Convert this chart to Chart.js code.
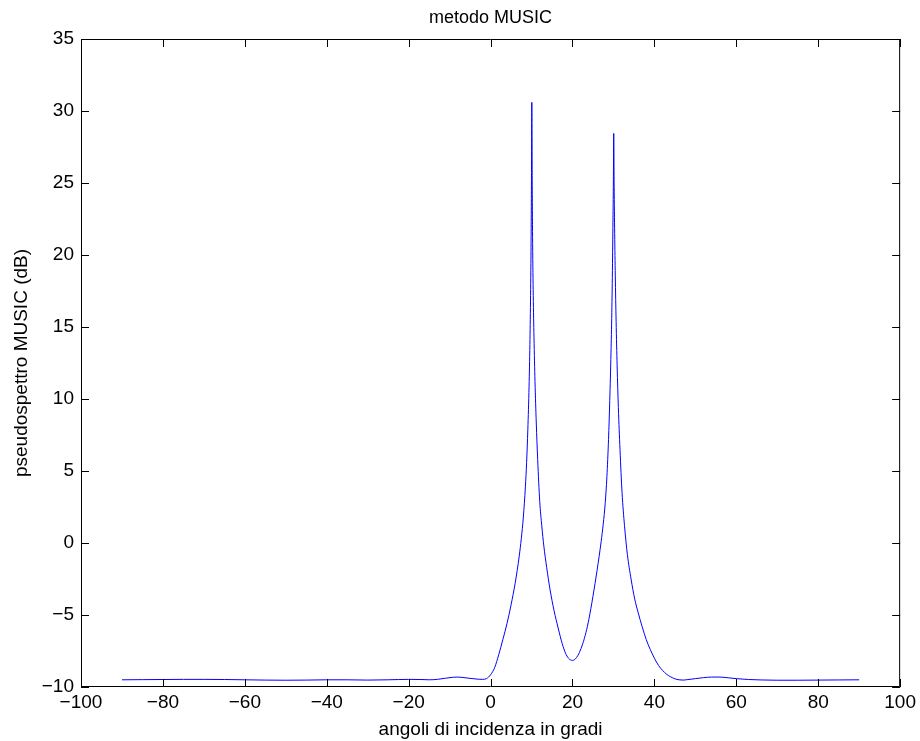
<!DOCTYPE html>
<html lang="it">

<head>
    <meta charset="UTF-8">
    <meta name="viewport" content="width=device-width, initial-scale=1.0">
    <title>metodo MUSIC</title>
    <script src="https://cdn.jsdelivr.net/npm/chart.js"></script>
    <style>
        html, body { margin: 0; padding: 0; background: #fff; }
        #grafico { width: 920px; height: 741px; }
    </style>
</head>

<body>
    <div id="grafico">
        <canvas id="myChartCanvas"></canvas>
    </div>
</body>

</html>

<script>

    // angoli (gradi) e pseudospettro (dB)
    var angoli = [
        -90, -85, -80, -75, -70, -65, -60, -55, -50, -45, -40, -35, -30, -25, -20, -17, -15, -13, -11, -9, -8, -7, -5, -3, -2, -1,
        0, 1, 2, 3, 4, 5, 6, 6.5, 7, 7.5, 8, 8.5, 8.8, 9.1, 9.4, 9.6, 9.75, 9.88, 9.97, 10.07,
        10.17, 10.27, 10.42, 10.6, 10.85, 11.15, 11.5, 12, 12.5, 13, 13.7, 14.5, 15.5, 16.5, 17.5, 18.3, 19, 19.6, 20,
        20.4, 21, 21.7, 22.5, 23.3, 24, 25, 26, 27, 27.5, 28, 28.4, 28.8, 29.1, 29.4, 29.6, 29.77, 29.9, 29.98, 30.07,
        30.17, 30.3, 30.45, 30.65, 30.9, 31.2, 31.6, 32.1, 32.7, 33.4, 34.3, 35.2, 36, 37, 38, 39, 40, 41, 42, 43, 44, 45, 46, 47,
        48, 50, 52, 54, 56, 58, 60, 63, 66, 70, 75, 80, 85, 90
    ];

    var pseudospettro = [
        -9.5, -9.49, -9.48, -9.47, -9.47, -9.48, -9.5, -9.52, -9.53, -9.52, -9.5, -9.5, -9.52, -9.5, -9.47, -9.48, -9.5, -9.47, -9.39, -9.32, -9.31, -9.33, -9.4, -9.46, -9.47, -9.42,
        -9.15, -8.65, -7.75, -6.7, -5.6, -4.3, -2.8, -1.9, -0.9, 0.3, 1.8, 3.9, 5.6, 7.9, 10.9, 13.8, 16.8, 20.5, 24.5, 30.6,
        24.8, 20.8, 17.2, 14.3, 11.2, 8.4, 5.8, 2.9, 1.2, -0.2, -1.7, -3.2, -4.7, -5.9, -7.0, -7.65, -8.0, -8.13, -8.15,
        -8.12, -7.95, -7.6, -7.0, -6.2, -5.3, -3.7, -1.9, 0.1, 1.3, 2.8, 4.6, 7.2, 9.9, 13.2, 16.0, 19.4, 22.8, 25.0, 28.45,
        24.8, 21.5, 18.6, 15.4, 12.3, 9.4, 6.5, 3.5, 1.2, -0.8, -2.5, -3.9, -4.8, -5.8, -6.7, -7.4, -8.0, -8.5, -8.85, -9.12, -9.3, -9.43, -9.5, -9.52,
        -9.49, -9.42, -9.35, -9.31, -9.31, -9.36, -9.42, -9.48, -9.51, -9.53, -9.53, -9.52, -9.51, -9.5
    ];

    var tickX = [-100, -80, -60, -40, -20, 0, 20, 40, 60, 80, 100];
    var tickY = [-10, -5, 0, 5, 10, 15, 20, 25, 30, 35];

    var titolo = 'metodo MUSIC';
    var titoloX = 'angoli di incidenza in gradi';
    var titoloY = 'pseudospettro MUSIC (dB)';

    var fonte = '"Liberation Sans", Arial, Helvetica, sans-serif';

    var punti = [];
    for (var i = 0; i < angoli.length; i++) {
        punti.push({ x: angoli[i], y: pseudospettro[i] });
    }

    function meno(v) {
        return String(v).replace('-', '\u2212');
    }

    // cornice, tacche interne (stile MATLAB) e titolo
    var cornice = {
        id: 'cornice',
        afterDraw: function (chart) {
            var ctx = chart.ctx;
            var a = chart.chartArea;
            var sx = chart.scales.x;
            var sy = chart.scales.y;
            var L = 8;

            ctx.save();
            ctx.strokeStyle = '#000';
            ctx.lineWidth = 1;
            ctx.beginPath();
            ctx.rect(a.left + 0.5, a.top + 0.5, a.right - a.left - 1, a.bottom - a.top - 1);

            tickX.forEach(function (v) {
                var px = Math.round(sx.getPixelForValue(v)) + 0.5;
                ctx.moveTo(px, a.bottom);
                ctx.lineTo(px, a.bottom - L);
                ctx.moveTo(px, a.top);
                ctx.lineTo(px, a.top + L);
            });
            tickY.forEach(function (v) {
                var py = Math.round(sy.getPixelForValue(v)) + 0.5;
                ctx.moveTo(a.left, py);
                ctx.lineTo(a.left + L, py);
                ctx.moveTo(a.right, py);
                ctx.lineTo(a.right - L, py);
            });
            ctx.stroke();

            ctx.fillStyle = '#000';
            ctx.font = '18px ' + fonte;
            ctx.textAlign = 'center';
            ctx.textBaseline = 'middle';
            ctx.fillText(titolo, (a.left + a.right) / 2, 18);
            ctx.restore();
        }
    };

    const config = {
        type: 'scatter',
        data: {
            datasets: [{
                label: 'pseudospettro',
                data: punti,
                showLine: true,
                borderColor: '#0000ff',
                borderWidth: 1,
                pointRadius: 0,
                cubicInterpolationMode: 'monotone',
                fill: false
            }]
        },
        options: {
            responsive: false,
            animation: false,
            devicePixelRatio: 1,
            layout: { padding: { top: 39, right: 19, left: 0, bottom: 0 } },
            plugins: {
                legend: { display: false },
                tooltip: { enabled: false }
            },
            scales: {
                x: {
                    type: 'linear',
                    min: -100,
                    max: 100,
                    afterFit: function (s) { s.height = 54; },
                    afterBuildTicks: function (s) { s.ticks = tickX.map(function (v) { return { value: v }; }); },
                    grid: { display: false, drawTicks: false },
                    border: { display: false },
                    ticks: {
                        color: '#000',
                        padding: 4,
                        maxRotation: 0,
                        font: { family: fonte, size: 19 },
                        callback: function (v) { return meno(v); }
                    },
                    title: {
                        display: true,
                        text: titoloX,
                        color: '#000',
                        padding: { top: 0, bottom: 0 },
                        font: { family: fonte, size: 19 }
                    }
                },
                y: {
                    type: 'linear',
                    min: -10,
                    max: 35,
                    afterFit: function (s) { s.width = 81; },
                    afterBuildTicks: function (s) { s.ticks = tickY.map(function (v) { return { value: v }; }); },
                    grid: { display: false, drawTicks: false },
                    border: { display: false },
                    ticks: {
                        color: '#000',
                        padding: 7,
                        font: { family: fonte, size: 19 },
                        callback: function (v) { return meno(v); }
                    },
                    title: {
                        display: true,
                        text: titoloY,
                        color: '#000',
                        padding: { top: 10, bottom: 0 },
                        font: { family: fonte, size: 19 }
                    }
                }
            }
        },
        plugins: [cornice]
    };

    var canvas = document.getElementById('myChartCanvas');
    canvas.width = 920;
    canvas.height = 741;

    let myChart = new Chart(canvas, config);

</script>
